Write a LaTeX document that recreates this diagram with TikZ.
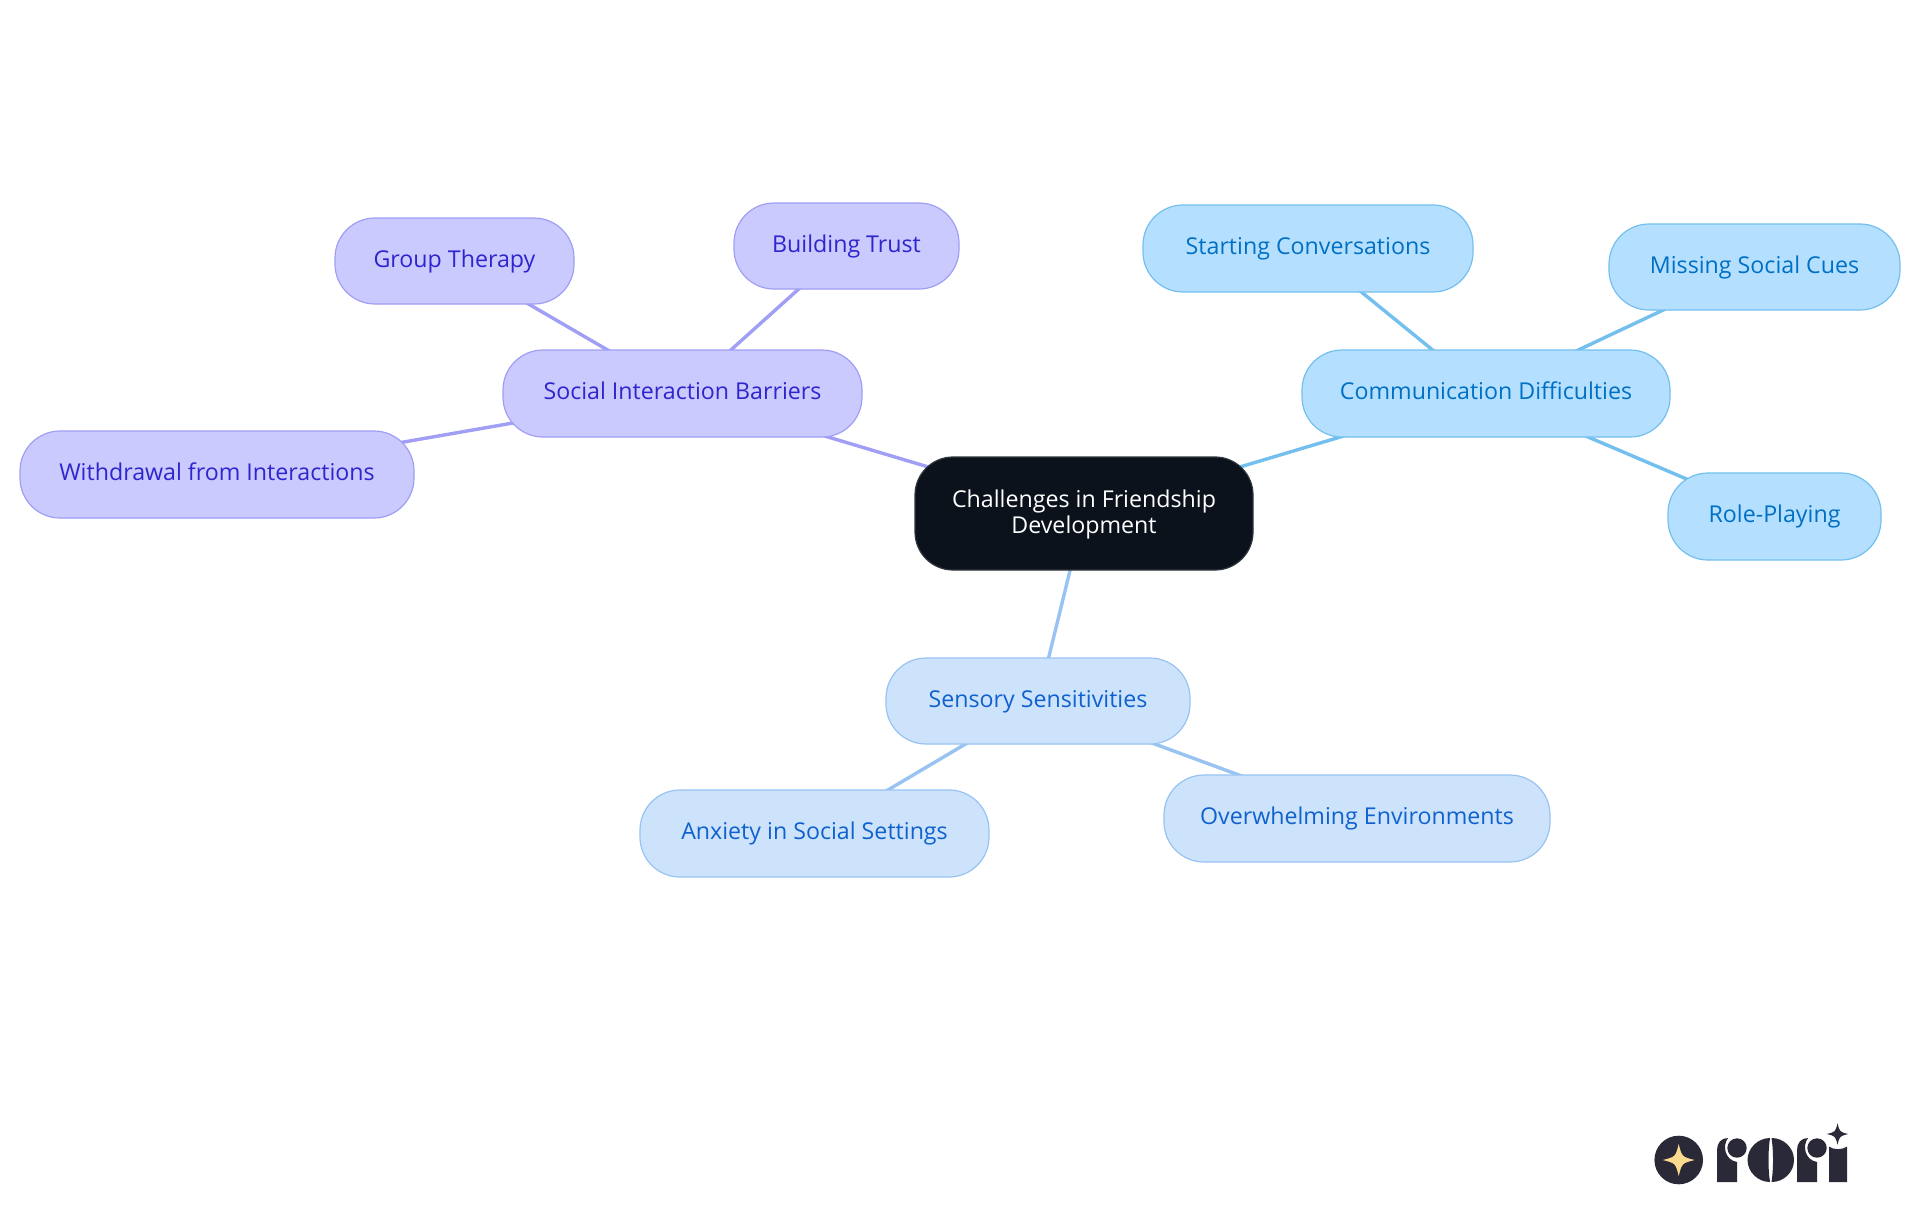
\documentclass[tikz,border=0pt]{standalone}
\usepackage{fontspec}
\usetikzlibrary{backgrounds}
\setmainfont{Open Sans}
\definecolor{vfill}{HTML}{CACAFF}\definecolor{vline}{HTML}{A09EF5}\definecolor{vtext}{HTML}{2E25CC}
\definecolor{bfill}{HTML}{B5DFFF}\definecolor{bline}{HTML}{73C0EF}\definecolor{btext}{HTML}{0070C4}
\definecolor{lfill}{HTML}{CDE3FC}\definecolor{lline}{HTML}{98C3F2}\definecolor{ltext}{HTML}{0F62CE}
\definecolor{dark}{HTML}{0B121B}\definecolor{logo}{HTML}{2A2938}\definecolor{gold}{HTML}{FBD98E}
\tikzset{
 x=0.5pt,y=-0.5pt,
 pill/.style={rounded corners=20pt,line width=0.6pt,inner sep=0pt,font=\fontsize{11.6}{13}\selectfont,anchor=center,text height=8.5pt,text depth=2.5pt},
 viol/.style={pill,draw=vline,fill=vfill,text=vtext},
 blu/.style={pill,draw=bline,fill=bfill,text=btext},
 lig/.style={pill,draw=lline,fill=lfill,text=ltext},
 root/.style={pill,rounded corners=19pt,draw=dark!85!white,fill=dark,text=white,text height=8pt,text depth=14.5pt},
 vedge/.style={draw=vline,line width=1.7pt},
 bedge/.style={draw=bline,line width=1.7pt},
 ledge/.style={draw=lline,line width=1.7pt},
}
\newcommand{\sparkle}[4]{\fill[#4] (#1-#3,#2) .. controls (#1-#3*0.2,#2-#3*0.2) .. (#1,#2-#3) .. controls (#1+#3*0.2,#2-#3*0.2) .. (#1+#3,#2) .. controls (#1+#3*0.2,#2+#3*0.2) .. (#1,#2+#3) .. controls (#1-#3*0.2,#2+#3*0.2) .. cycle;}
\newcommand{\logor}[1]{\begin{scope}[xshift=#1*0.5pt]
\fill[logo] (1717,1182) -- (1717,1150) .. controls (1717,1143) and (1721,1138) .. (1728,1138) .. controls (1722,1146) and (1725,1160) .. (1737,1162) -- (1737,1182) -- cycle;
\fill[logo] (1737,1148) circle[radius=9.7];
\end{scope}}
\begin{document}
\begin{tikzpicture}
\useasboundingbox (0,0) rectangle (1920,1215);
\node[root,minimum width=169pt,minimum height=56.5pt] (root) at (1084,513.5) {\begin{tabular}[t]{@{}c@{}}Challenges in Friendship\\Development\end{tabular}};
\node[viol,minimum width=179.5pt,minimum height=43.5pt] (soc) at (682.5,393.5) {Social Interaction Barriers};
\node[viol,minimum width=119.5pt,minimum height=43pt] (grp) at (454.5,261) {Group Therapy};
\node[viol,minimum width=112.5pt,minimum height=43pt] (bui) at (846.5,246) {Building Trust};
\node[viol,minimum width=197pt,minimum height=43.5pt] (wit) at (217,474.5) {Withdrawal from Interactions};
\node[blu,minimum width=184pt,minimum height=43.5pt] (com) at (1486,393.5) {Communication Difficulties};
\node[blu,minimum width=165pt,minimum height=43.5pt] (sta) at (1308,248.5) {Starting Conversations};
\node[blu,minimum width=145.5pt,minimum height=43pt] (mis) at (1754.5,267) {Missing Social Cues};
\node[blu,minimum width=106.5pt,minimum height=43.5pt] (rol) at (1774.5,516.5) {Role-Playing};
\node[lig,minimum width=152pt,minimum height=43pt] (sen) at (1038,701) {Sensory Sensitivities};
\node[lig,minimum width=174.5pt,minimum height=43.5pt] (anx) at (814.5,833.5) {Anxiety in Social Settings};
\node[lig,minimum width=193pt,minimum height=43.5pt] (ove) at (1357,818.5) {Overwhelming Environments};
\begin{scope}[on background layer]
\path[fill=white] (0,0) rectangle (1920,1215);
\draw[vedge] (soc.center) -- (root.center);
\draw[bedge] (com.center) -- (root.center);
\draw[ledge] (sen.center) -- (root.center);
\draw[vedge] (soc.center) -- (grp.center);
\draw[vedge] (soc.center) -- (bui.center);
\draw[vedge] (soc.center) -- (wit.center);
\draw[bedge] (com.center) -- (sta.center);
\draw[bedge] (com.center) -- (mis.center);
\draw[bedge] (com.center) -- (rol.center);
\draw[ledge] (sen.center) -- (anx.center);
\draw[ledge] (sen.center) -- (ove.center);
\end{scope}
% logo
\fill[logo] (1678.7,1160) circle[radius=24.3];
\sparkle{1678.7}{1160}{16}{gold}
\logor{0}
% o
\fill[logo] (1770,1138) .. controls (1758,1138) and (1747.5,1148) .. (1747.5,1160) .. controls (1747.5,1172) and (1758,1182) .. (1770,1182) .. controls (1768,1170) and (1768,1150) .. (1770,1138) -- cycle;
\fill[logo] (1771.5,1138) .. controls (1784,1138) and (1794,1148) .. (1794,1160) .. controls (1794,1172) and (1784,1182) .. (1771.5,1182) .. controls (1773.5,1170) and (1773.5,1150) .. (1771.5,1138) -- cycle;
\logor{80}
% i
\fill[logo] (1829,1182) -- (1829,1146.5) .. controls (1833,1150) and (1843,1150) .. (1847,1146.5) -- (1847,1182) -- cycle;
\sparkle{1837.5}{1134}{10.7}{logo}
\end{tikzpicture}
\end{document}
